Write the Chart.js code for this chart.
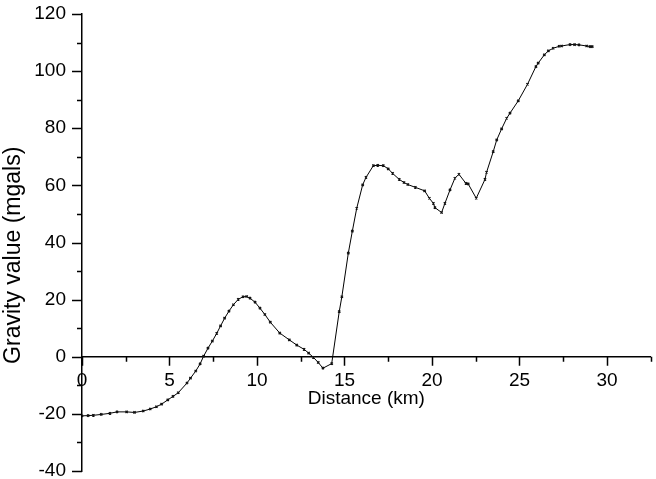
<!DOCTYPE html>
<html>
<head>
<meta charset="utf-8">
<script src="https://cdn.jsdelivr.net/npm/chart.js@4.4.1/dist/chart.umd.min.js"></script>
<style>
  html, body { margin: 0; padding: 0; background: #fff; }
  #wrap { width: 656px; height: 479px; }
</style>
</head>
<body>
<div id="wrap"><canvas id="gravityChart"></canvas></div>
<script>
// profile distance along the line (km)
const distanceKm = [
  0.0, 0.35, 0.65, 1.1, 1.6, 2.0, 2.55, 3.0, 3.5, 3.9,
  4.25, 4.55, 4.9, 5.2, 5.5, 6.0, 6.2, 6.5, 6.75, 6.95,
  7.2, 7.45, 7.7, 7.92, 8.15, 8.4, 8.65, 8.93, 9.2, 9.41,
  9.6, 9.89, 10.17, 10.45, 10.76, 11.3, 11.85, 12.27, 12.69, 12.95,
  13.22, 13.5, 13.77, 14.27, 14.7, 14.85, 15.22, 15.45, 15.7, 16.04,
  16.23, 16.65, 16.9, 17.22, 17.5, 17.75, 18.13, 18.4, 18.62, 19.05,
  19.58, 19.85, 20.08, 20.17, 20.55, 20.74, 21.03, 21.31, 21.54, 21.94,
  22.07, 22.53, 23.03, 23.12, 23.5, 23.7, 23.98, 24.27, 24.46, 24.93,
  25.46, 25.94, 26.07, 26.42, 26.65, 26.93, 27.27, 27.41, 27.89, 28.15,
  28.4, 28.84, 29.03, 29.16
];

// observed gravity (mgals)
const gravityMgal = [
  -20.7, -20.6, -20.5, -20.2, -19.8, -19.3, -19.3, -19.5, -19.0, -18.3,
  -17.5, -16.6, -15.1, -13.9, -12.6, -9.2, -7.5, -5.0, -2.5, 0.2,
  3.0, 5.5, 8.2, 10.8, 13.5, 16.0, 18.2, 20.1, 21.0, 21.1,
  20.5, 19.1, 17.0, 14.8, 12.1, 8.3, 5.9, 4.1, 2.6, 1.3,
  -0.2, -2.0, -4.0, -2.4, 15.8, 21.0, 36.3, 44.0, 52.0, 60.2,
  62.8, 66.9, 67.0, 66.9, 65.8, 64.2, 62.1, 61.0, 60.3, 59.3,
  58.1, 55.5, 53.7, 52.2, 50.5, 53.7, 58.4, 62.5, 63.9, 60.7,
  60.5, 55.5, 62.1, 64.6, 71.8, 75.9, 79.8, 83.5, 85.3, 89.6,
  95.4, 101.6, 102.8, 105.7, 107.1, 108.0, 108.7, 108.8, 109.3, 109.3,
  109.2, 108.8, 108.6, 108.6
];

const xTickLabels = [0, 5, 10, 15, 20, 25, 30];
const yTickLabels = [-40, -20, 0, 20, 40, 60, 80, 100, 120];

const FONT = "'Liberation Sans', Arial, sans-serif";

// small tick marks, major + minor, drawn outward from each axis line
const axisTicks = {
  id: "axisTicks",
  afterDraw(chart) {
    const { ctx, scales: { x, y } } = chart;
    const y0 = y.getPixelForValue(0);
    const xLeft = x.getPixelForValue(0);
    ctx.save();
    ctx.strokeStyle = "#000";
    ctx.lineWidth = 1.5;
    ctx.beginPath();
    for (let v = 0; v <= 32.5; v += 2.5) {
      const px = Math.round(x.getPixelForValue(v)) + 0.5;
      const len = v % 5 === 0 ? 9 : 5;
      ctx.moveTo(px, y0);
      ctx.lineTo(px, y0 + len);
    }
    for (let v = -40; v <= 120; v += 10) {
      const py = Math.round(y.getPixelForValue(v)) + 0.5;
      const len = v % 20 === 0 ? 10 : 5;
      ctx.moveTo(xLeft, py);
      ctx.lineTo(xLeft - len, py);
    }
    ctx.stroke();
    ctx.restore();
  }
};

new Chart(document.getElementById("gravityChart"), {
  type: "line",
  data: {
    datasets: [{
      data: distanceKm.map((d, i) => ({ x: d, y: gravityMgal[i] })),
      borderColor: "#000",
      borderWidth: 1,
      backgroundColor: "#000",
      pointStyle: "crossRot",
      pointRadius: 1.6,
      pointBorderWidth: 1.3,
      pointBorderColor: "#111",
      tension: 0,
      fill: false
    }]
  },
  options: {
    responsive: true,
    maintainAspectRatio: false,
    animation: false,
    layout: { padding: { left: 0, right: 5, top: 14, bottom: 8 } },
    plugins: {
      legend: { display: false },
      tooltip: { enabled: false }
    },
    scales: {
      x: {
        type: "linear",
        position: { y: 0 },
        min: 0,
        max: 32.5,
        afterBuildTicks: (s) => { s.ticks = xTickLabels.map(v => ({ value: v })); },
        grid: { display: false },
        border: { display: true, color: "#000", width: 1.5 },
        ticks: {
          color: "#000",
          padding: 5,
          font: { family: FONT, size: 19 },
          maxRotation: 0
        },
        title: {
          display: true,
          text: "Distance (km)",
          color: "#000",
          font: { family: FONT, size: 19 },
          padding: { top: -10, bottom: 4 }
        }
      },
      y: {
        type: "linear",
        min: -40,
        max: 120,
        afterBuildTicks: (s) => { s.ticks = yTickLabels.map(v => ({ value: v })); },
        afterFit: (s) => { s.width = 82; },
        // invisible tick length keeps labels clear of the axis line
        grid: {
          display: true,
          drawOnChartArea: false,
          drawTicks: true,
          tickLength: 19.4,
          tickColor: "rgba(0,0,0,0)"
        },
        border: { display: true, color: "#000", width: 1.5 },
        ticks: {
          color: "#000",
          padding: -3.4,
          font: { family: FONT, size: 19 }
        },
        title: {
          display: true,
          text: "Gravity value (mgals)    ",
          color: "#000",
          font: { family: FONT, size: 23 },
          padding: { top: 0, bottom: 0 }
        }
      }
    }
  },
  plugins: [axisTicks]
});
</script>
</body>
</html>
